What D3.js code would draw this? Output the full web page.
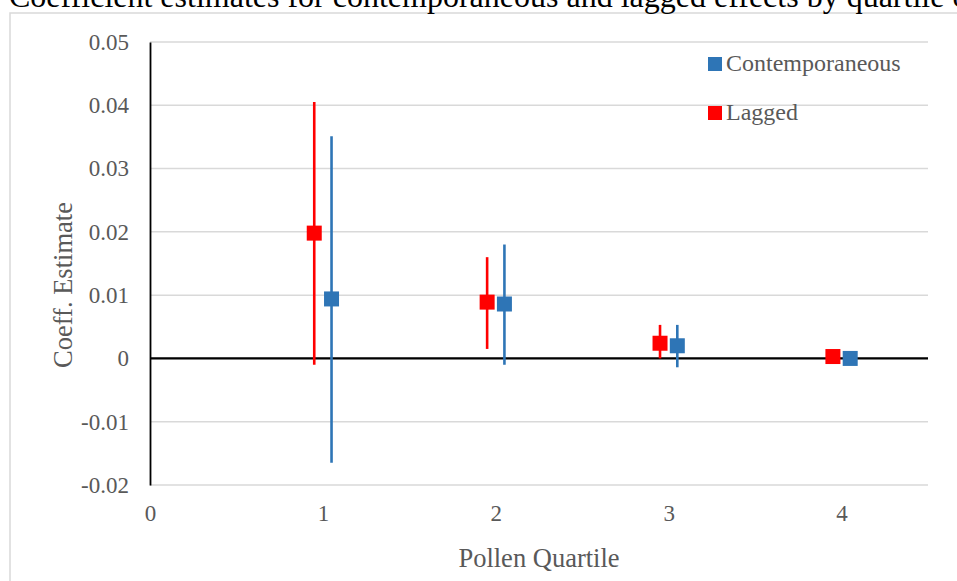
<!DOCTYPE html>
<html lang="en">
<head>
<meta charset="UTF-8">
<title>Coefficient estimates by quartile</title>
<script src="https://d3js.org/d3.v7.min.js"></script>
<style>
  body { margin: 0; background: #fff; }
  text { font-family: "Liberation Serif", "Times New Roman", serif; }
</style>
</head>
<body>
<div id="chart"></div>
<script>
// quartiles and estimates
const quartiles = [1, 2, 3, 4];
const contemporaneous = [0.0094, 0.0086, 0.0020, 0.0000];
const contempLow = [-0.0165, -0.0010, -0.0014, 0.0000];
const contempHigh = [0.0351, 0.0180, 0.0053, 0.0000];
const lagged = [0.0198, 0.0089, 0.0024, 0.0003];
const laggedLow = [-0.0010, 0.0015, 0.0000, 0.0003];
const laggedHigh = [0.0405, 0.0160, 0.0053, 0.0003];
const yTicks = [-0.02, -0.01, 0, 0.01, 0.02, 0.03, 0.04, 0.05];
const xTicks = [0, 1, 2, 3, 4];

const W = 957, H = 581;
const svg = d3.select("#chart").append("svg")
  .attr("width", W).attr("height", H);

// chart frame
svg.append("rect")
  .attr("x", 10).attr("y", 13).attr("width", 960).attr("height", 600)
  .attr("fill", "#fff").attr("stroke", "#d9d9d9").attr("stroke-width", 1.5);

// title (partly cut off at top, as in the picture)
svg.append("text")
  .attr("x", 9).attr("y", 7)
  .attr("font-size", 32)
  .attr("fill", "#000")
  .text("Coefficient estimates for contemporaneous and lagged effects by quartile of");

const x = d3.scaleLinear().domain([0, 4.5]).range([150, 928]);
const y = d3.scaleLinear().domain([-0.02, 0.05]).range([485, 42]);

// gridlines
svg.append("g").selectAll("line").data(yTicks).join("line")
  .attr("x1", x(0)).attr("x2", x(4.5))
  .attr("y1", d => y(d)).attr("y2", d => y(d))
  .attr("stroke", "#d9d9d9").attr("stroke-width", 1.5);

// zero line
svg.append("line")
  .attr("x1", x(0)).attr("x2", x(4.5))
  .attr("y1", y(0)).attr("y2", y(0))
  .attr("stroke", "#000").attr("stroke-width", 2.2);

// y axis
const yAxis = svg.append("g")
  .attr("transform", "translate(" + x(0) + ",0)")
  .call(d3.axisLeft(y).tickValues(yTicks).tickSize(0).tickPadding(21)
    .tickFormat(d => d === 0 ? "0" : d3.format(".2f")(d).replace("−", "-")));
yAxis.select(".domain").attr("stroke", "#000").attr("stroke-width", 1.8);
yAxis.selectAll("text").attr("font-size", 23).attr("fill", "#595959")
  .attr("font-family", "Liberation Serif, serif");

// x axis labels
const xAxis = svg.append("g")
  .attr("transform", "translate(0," + y(-0.02) + ")")
  .call(d3.axisBottom(x).tickValues(xTicks).tickSize(0).tickPadding(20)
    .tickFormat(d3.format("d")));
xAxis.select(".domain").remove();
xAxis.selectAll("text").attr("font-size", 23).attr("fill", "#595959")
  .attr("font-family", "Liberation Serif, serif");

// axis titles
svg.append("text")
  .attr("x", x(2.25)).attr("y", 567)
  .attr("text-anchor", "middle").attr("font-size", 26.5).attr("fill", "#595959")
  .text("Pollen Quartile");
svg.append("text")
  .attr("transform", "translate(72,285) rotate(-90)")
  .attr("text-anchor", "middle").attr("font-size", 26.5).attr("fill", "#595959")
  .text("Coeff. Estimate");

const series = [
  { name: "Lagged", color: "#ff0000", off: -0.05, est: lagged, lo: laggedLow, hi: laggedHigh },
  { name: "Contemporaneous", color: "#2e75b6", off: 0.05, est: contemporaneous, lo: contempLow, hi: contempHigh }
];

const sq = 15;
series.forEach(s => {
  const g = svg.append("g");
  g.selectAll("line").data(quartiles).join("line")
    .attr("x1", (d) => x(d + s.off)).attr("x2", (d) => x(d + s.off))
    .attr("y1", (d, i) => y(s.hi[i])).attr("y2", (d, i) => y(s.lo[i]))
    .attr("stroke", s.color).attr("stroke-width", 2.6);
  g.selectAll("rect").data(quartiles).join("rect")
    .attr("x", d => x(d + s.off) - sq / 2)
    .attr("y", (d, i) => y(s.est[i]) - sq / 2)
    .attr("width", sq).attr("height", sq)
    .attr("fill", s.color);
});

// legend
const legend = [
  { name: "Contemporaneous", color: "#2e75b6" },
  { name: "Lagged", color: "#ff0000" }
];
const lg = svg.append("g").selectAll("g").data(legend).join("g")
  .attr("transform", (d, i) => "translate(708," + (57 + i * 49) + ")");
lg.append("rect").attr("width", 14).attr("height", 14).attr("fill", d => d.color);
lg.append("text").attr("x", 18).attr("y", 14)
  .attr("font-size", 24).attr("fill", "#595959")
  .text(d => d.name);
</script>
</body>
</html>
